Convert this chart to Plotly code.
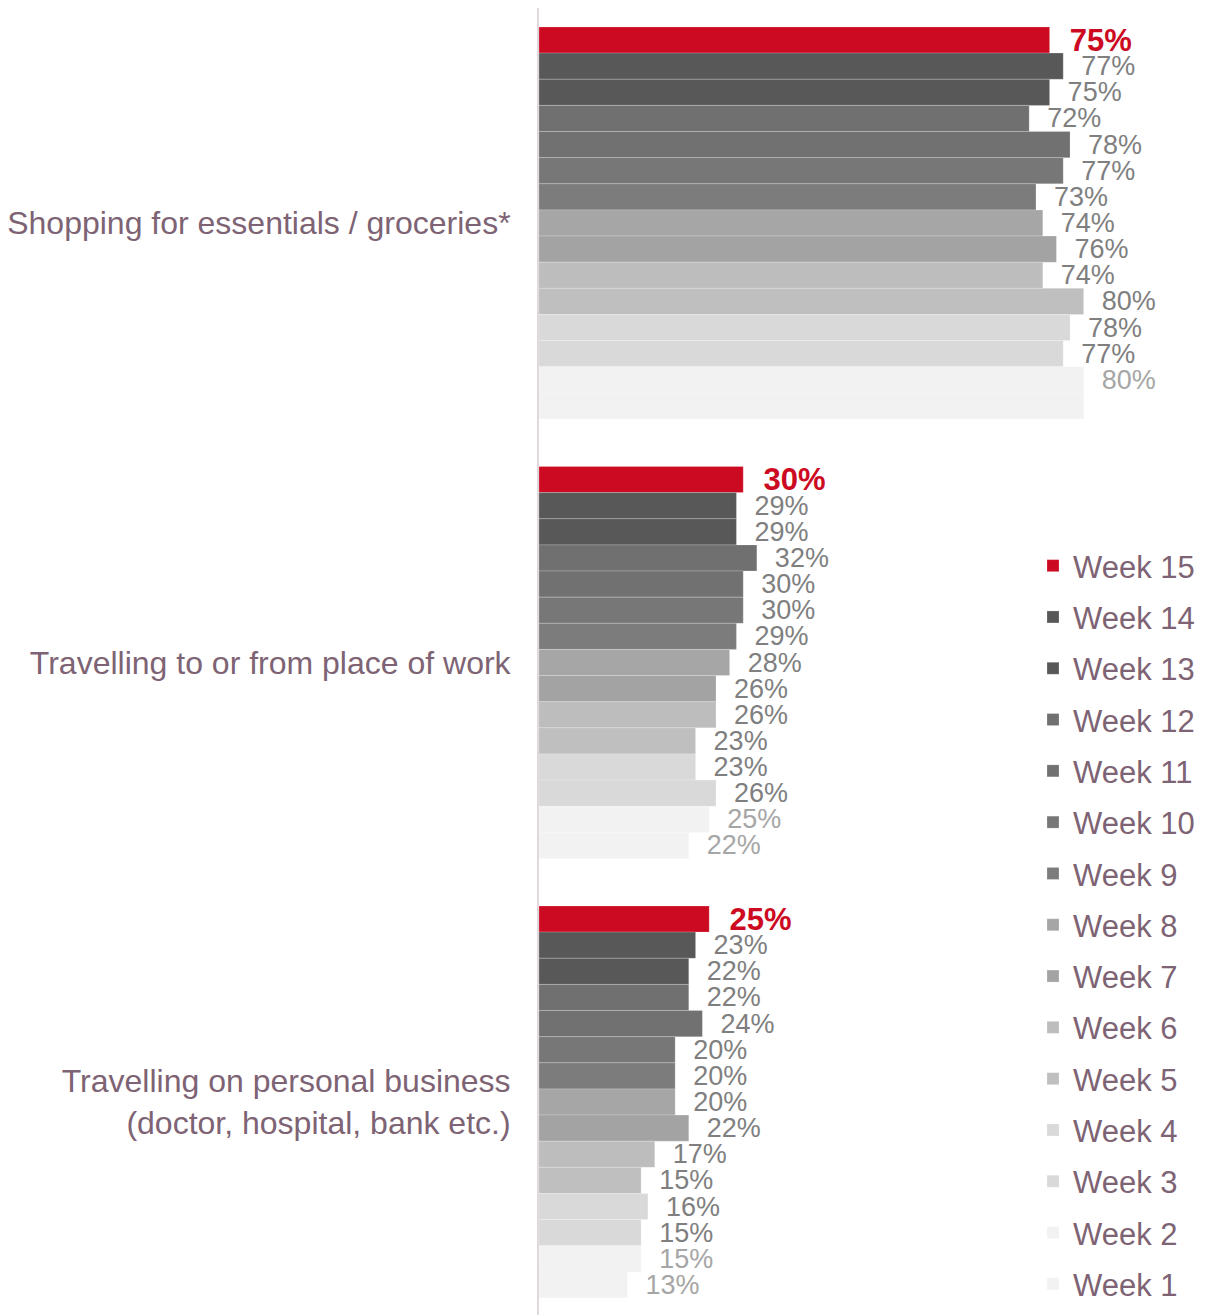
import plotly.graph_objects as go

categories = [
    "Shopping for essentials / groceries*",
    "Travelling to or from place of work",
    "Travelling on personal business<br>(doctor, hospital, bank etc.)",
]
weeks = ["Week 15", "Week 14", "Week 13", "Week 12", "Week 11", "Week 10", "Week 9",
         "Week 8", "Week 7", "Week 6", "Week 5", "Week 4", "Week 3", "Week 2", "Week 1"]

# values per category, ordered Week 15 ... Week 1
shopping = [75, 77, 75, 72, 78, 77, 73, 74, 76, 74, 80, 78, 77, 80, 80]
work = [30, 29, 29, 32, 30, 30, 29, 28, 26, 26, 23, 23, 26, 25, 22]
personal = [25, 23, 22, 22, 24, 20, 20, 20, 22, 17, 15, 16, 15, 15, 13]
# labels shown on the chart (Week 1 shopping label is not shown in the source)
show_label = [[True] * 15, [True] * 15, [True] * 15]
show_label[0][14] = False

bar_colors = ["#cc0a21", "#585858", "#585858", "#707070", "#717171", "#777777", "#7c7c7c",
              "#a6a6a6", "#a3a3a3", "#bdbdbd", "#bfbfbf", "#d9d9d9", "#d9d9d9", "#f2f2f2", "#f2f2f2"]
label_colors = ["#cc0a21"] + ["#7f7f7f"] * 12 + ["#a6a6a6"] * 2

series = [shopping, work, personal]
PAD = "\u00a0\u00a0"

fig = go.Figure()
for i, wk in enumerate(weeks):
    vals = [s[i] for s in series]
    texts = [(PAD + f"{v}%") if show_label[c][i] else "" for c, v in enumerate(vals)]
    bold = i == 0
    fig.add_trace(go.Bar(
        y=list(range(len(categories))),
        x=vals,
        orientation="h",
        name=wk,
        legendgroup=wk,
        marker=dict(color=bar_colors[i], line=dict(color="rgba(255,255,255,0.35)", width=0.6)),
        text=texts,
        textposition="outside",
        constraintext="none",
        cliponaxis=False,
        textfont=dict(
            family="Arial, Liberation Sans, sans-serif",
            size=31 if bold else 27,
            color=label_colors[i],
            weight="bold" if bold else "normal",
        ),
        hoverinfo="skip",
    ))

# the page body adds an 8px margin, so the figure is sized/placed to compensate
OFF = 8
W, H = 1213 - OFF, 1315 - OFF
L = 539 - OFF
unit = 439.5
top_val = -(223 - OFF) / unit
bot_val = top_val + H / unit
pw = W - L
ph = H

fig.update_layout(
    width=W, height=H,
    barmode="group",
    bargap=0.108,
    bargroupgap=0,
    plot_bgcolor="white",
    paper_bgcolor="white",
    margin=dict(l=L, r=0, t=0, b=0, pad=0, autoexpand=False),
    font=dict(family="Arial, Liberation Sans, sans-serif", color="#7d6373"),
    showlegend=True,
    legend=dict(
        x=(1025 - L) / pw, xanchor="left",
        y=1 - (539 - OFF) / ph, yanchor="top",
        traceorder="grouped",
        tracegroupgap=8,
        font=dict(size=31, color="#7d6373"),
        bgcolor="rgba(0,0,0,0)",
        itemwidth=30,
    ),
)
fig.update_xaxes(range=[0, 99], showgrid=False, zeroline=False, showticklabels=False,
                 showline=False, ticks="")
fig.update_yaxes(
    tickmode="array",
    tickvals=list(range(len(categories))),
    ticktext=categories,
    range=[bot_val, top_val],
    showgrid=False, zeroline=False,
    showline=True, linecolor="#e0d8dc", linewidth=2,
    ticks="",
    ticklabelstandoff=20,
    tickfont=dict(size=32, color="#7d6373"),
    automargin=False,
)

fig.write_html("out.html")
